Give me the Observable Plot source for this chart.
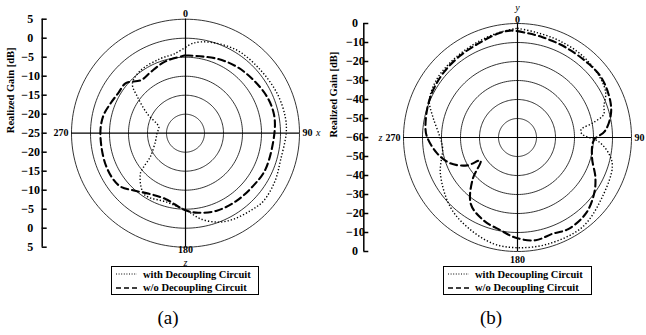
<!DOCTYPE html>
<html><head><meta charset="utf-8">
<script src="https://cdn.jsdelivr.net/npm/d3@7"></script>
<script src="https://cdn.jsdelivr.net/npm/@observablehq/plot@0.6"></script>
<style>
body{margin:0;background:#fff;}
#wrap{position:relative;width:646px;height:335px;font-family:"Liberation Serif","Times New Roman",serif;color:#000;}
.chart{position:absolute;top:0;}
.legend{position:absolute;top:266px;height:29px;border:1px solid #000;box-sizing:border-box;background:transparent;font-weight:bold;font-size:10.5px;}
.row{display:flex;align-items:center;height:13.5px;padding-left:4px;}
.row svg{margin-right:6px;}
.cap{position:absolute;top:308px;width:80px;text-align:center;font-size:19px;line-height:20px;}
</style></head>
<body>
<div id="wrap">
  <div id="ca" class="chart" style="left:0px"></div>
  <div id="cb" class="chart" style="left:323px"></div>
</div>
<script>
// ---------- data ----------
const seriesNames = ["with Decoupling Circuit", "w/o Decoupling Circuit"];
const angleLabels = ["0", "90", "180", "270"];
const gainTitle = "Realized Gain [dB]";
const captions = ["(a)", "(b)"];

// (a)  x-z plane, center -25 dB, outer +5 dB
const aCenter = -25;
const aRings = [-20, -15, -10, -5, 0, 5];
const aTickStep = 5;
const aWithAngle = [0, 5, 15, 32, 50, 67, 81, 90, 106, 118, 131, 140, 151, 160, 170, 179, 195, 214, 228, 231, 236, 256, 270, 283, 297, 307, 313, 324, 341, 352, 360];
const aWithGain  = [-2.4, -1.2, -0.2, 0.7, 0.8, 1.3, 1.6, 1.5, 1.0, 1.7, 2.2, 1.6, 0.9, -0.1, -2.1, -4.6, -6.2, -5.6, -9.0, -10.8, -13.8, -16.9, -17.5, -17.8, -13.7, -9.2, -5.9, -4.7, -4.3, -3.9, -2.4];
const aWoAngle = [0, 23, 38, 52, 66, 78, 90, 114, 127, 143, 158, 171, 180, 197, 211, 222, 232, 248, 270, 282, 292, 301, 310, 320, 330, 344, 360];
const aWoGain  = [-4.5, -3.7, -2.9, -2.3, -1.5, -1.2, -1.6, -1.9, -2.4, -2.7, -3.0, -3.8, -4.7, -6.9, -6.4, -4.7, -2.7, -2.4, -2.6, -2.9, -3.8, -4.4, -4.5, -6.8, -6.5, -5.4, -4.5];

// (b)  y-z plane, center -60 dB, outer 0 dB
const bCenter = -60;
const bRings = [-50, -40, -30, -20, -10, 0];
const bTickStep = 10;
const bWithAngle = [0, 10, 23, 38, 53, 63, 70, 75, 79, 83, 87, 93, 100, 107, 125, 144, 164, 180, 193, 209, 224, 245, 262, 271, 284, 293, 306, 318, 330, 341, 351, 360];
const bWithGain  = [-2.5, -3.8, -4.5, -5.0, -6.2, -7.9, -11.6, -13.0, -19.5, -26.3, -26.0, -17.1, -11.2, -7.8, -5.5, -1.8, -1.7, -2.0, -2.7, -5.9, -9.1, -15.2, -20.2, -19.0, -14.0, -9.6, -7.6, -7.0, -6.3, -5.1, -3.8, -2.5];
const bWoAngle = [0, 3, 14, 28, 44, 55, 69, 77, 86, 92, 105, 117, 126, 138, 151, 160, 170, 181, 190, 202, 215, 227, 238, 241, 249, 259, 270, 275, 288, 300, 312, 325, 339, 349, 356, 360];
const bWoGain  = [-4.0, -4.5, -5.6, -6.2, -6.1, -5.8, -7.6, -9.7, -14.0, -19.8, -19.4, -14.0, -10.1, -6.2, -4.9, -6.1, -5.1, -7.2, -10.3, -12.8, -17.2, -27.7, -37.1, -29.7, -22.1, -16.8, -12.5, -11.4, -10.1, -9.0, -8.2, -7.4, -6.2, -4.4, -3.6, -4.0];

// ---------- helpers ----------
const rad = Math.PI / 180;
function toXY(angles, gains, center) {
  return angles.map((a, i) => {
    const r = Math.max(0, gains[i] - center);
    return {x: r * Math.sin(a * rad), y: r * Math.cos(a * rad)};
  });
}
const styles = [
  {stroke: "#000", strokeWidth: 1.4, strokeDasharray: "1.3 2", strokeLinecap: "butt"},
  {stroke: "#000", strokeWidth: 2.1, strokeDasharray: "7 4"}
];

function polar(cfg) {
  const {center, rings, step, series, width, height, mL, mR, mT, mB, axisDx, labelDx, titleDx, letters} = cfg;
  const R = rings[rings.length - 1] - center;
  const ringPts = rings.flatMap(g => d3.range(0, 361, 2).map(a => ({g, x: (g - center) * Math.sin(a * rad), y: (g - center) * Math.cos(a * rad)})));
  const ticks = d3.range(-R, R + step / 2, step);
  const fmt = d => { const v = Math.abs(d) + center; return v < 0 ? "\u2212" + Math.abs(v) : "\u2007" + v; };
  const lbl = {fontWeight: "bold", fontSize: 10, text: d => d};
  const ital = {fontStyle: "italic", fontSize: 10, text: d => d};
  const marks = [
    Plot.line(ringPts, {x: "x", y: "y", z: "g", stroke: "#000", strokeWidth: 0.8}),
    Plot.ruleX([0], {stroke: "#000", strokeWidth: 1.2}),
    Plot.ruleY([0], {stroke: "#000", strokeWidth: 1.2}),
    ...series.map((s, i) => Plot.line(toXY(s.angle, s.gain, center), {x: "x", y: "y", curve: "catmull-rom", ...styles[i]})),
    Plot.ruleX([-R], {dx: axisDx, stroke: "#000", strokeWidth: 1.5}),
    Plot.axisY(ticks, {tickSize: -5, dx: axisDx, tickFormat: () => "", strokeWidth: 1.5, label: null}),
    Plot.axisY(ticks, {tickSize: 0, tickPadding: 0, dx: labelDx, textAnchor: "start", tickFormat: fmt, fontSize: 12, fontWeight: "bold", label: null}),
    Plot.text([gainTitle], {frameAnchor: "left", rotate: -90, dx: titleDx, fontWeight: "bold", fontSize: 10.5, text: d => d}),
    Plot.text([angleLabels[0]], {frameAnchor: "top", lineAnchor: "bottom", dy: cfg.topDy, ...lbl}),
    Plot.text([angleLabels[1]], {frameAnchor: "right", textAnchor: "start", dx: 3, ...lbl}),
    Plot.text([angleLabels[2]], {frameAnchor: "bottom", lineAnchor: "top", dy: cfg.bottomDy, ...lbl}),
    Plot.text([angleLabels[3]], {frameAnchor: "left", textAnchor: "end", dx: -3, ...lbl}),
    ...letters.map(l => Plot.text([l.t], {frameAnchor: l.anchor, lineAnchor: l.line || "middle", dx: l.dx || 0, dy: l.dy || 0, ...ital}))
  ];
  return Plot.plot({
    width, height, marginLeft: mL, marginRight: mR, marginTop: mT, marginBottom: mB,
    x: {domain: [-R, R], axis: null},
    y: {domain: [-R, R], label: null},
    style: {fontFamily: '"Liberation Serif","Times New Roman",serif', color: "#000", background: "transparent", overflow: "visible"},
    marks
  });
}

document.getElementById("ca").append(polar({
  center: aCenter, rings: aRings, step: aTickStep,
  series: [{angle: aWithAngle, gain: aWithGain}, {angle: aWoAngle, gain: aWoGain}],
  width: 323, height: 270, mL: 71, mR: 24, mT: 18.7, mB: 23.3,
  axisDx: -29.3, labelDx: -50.3, titleDx: -61, bottomDy: -1, topDy: -2,
  letters: [{t: "x", anchor: "right", dx: 21}, {t: "z", anchor: "bottom", dy: 15.5}]
}));
document.getElementById("cb").append(polar({
  center: bCenter, rings: bRings, step: bTickStep,
  series: [{angle: bWithAngle, gain: bWithGain}, {angle: bWoAngle, gain: bWoGain}],
  width: 323, height: 270, mL: 80, mR: 15, mT: 23, mB: 19,
  axisDx: -39.7, labelDx: -57.5, titleDx: -70, bottomDy: 4, topDy: -0.5,
  letters: [{t: "y", anchor: "top", line: "bottom", dy: -12.5}, {t: "z", anchor: "left", dx: -25}]
}));

// ---------- legends & captions ----------
const wrap = document.getElementById("wrap");
function legend(left, width) {
  const box = document.createElement("div");
  box.className = "legend";
  box.style.left = left + "px";
  box.style.width = width + "px";
  box.style.paddingTop = "0.5px";
  seriesNames.forEach((name, i) => {
    const row = document.createElement("div");
    row.className = "row";
    row.innerHTML = `<svg width="21" height="10"><line x1="0" x2="21" y1="5" y2="5" stroke="#000" stroke-width="${i ? 1.6 : 1}" stroke-dasharray="${i ? "5 3" : "1 1.6"}"/></svg><span>${name}</span>`;
    box.append(row);
  });
  wrap.append(box);
}
legend(111, 148);
legend(443, 149);
[[168, captions[0]], [491, captions[1]]].forEach(([cx, t]) => {
  const d = document.createElement("div");
  d.className = "cap";
  d.style.left = (cx - 40) + "px";
  d.textContent = t;
  wrap.append(d);
});
</script>
</body></html>
